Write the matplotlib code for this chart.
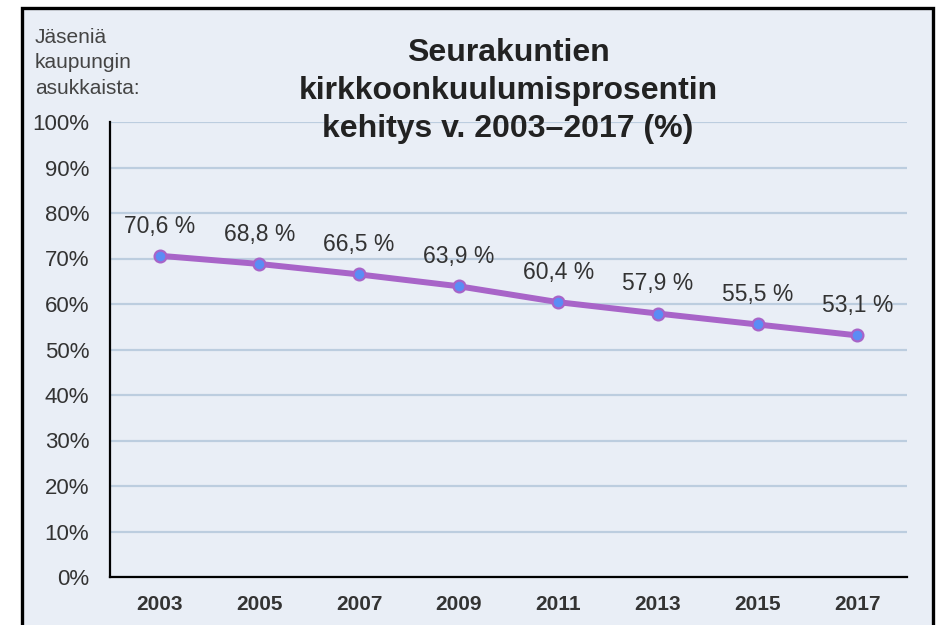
import matplotlib.pyplot as plt
from matplotlib.patches import Rectangle

plt.rcParams['font.family'] = ['Liberation Sans', 'DejaVu Sans']

# Data
years = ["2003", "2005", "2007", "2009", "2011", "2013", "2015", "2017"]
values = [70.6, 68.8, 66.5, 63.9, 60.4, 57.9, 55.5, 53.1]
labels = ["70,6 %", "68,8 %", "66,5 %", "63,9 %", "60,4 %", "57,9 %", "55,5 %", "53,1 %"]
yticks = list(range(0, 101, 10))

bg = "#e9eef6"
W, H = 942, 625

fig = plt.figure(figsize=(9.42, 6.25), dpi=100)
fig.patch.set_facecolor("white")

# frame around the chart
frame = Rectangle((22 / W, -0.05), (933 - 22) / W, 1.05 - 8 / H,
                  transform=fig.transFigure, facecolor=bg, edgecolor="black",
                  linewidth=2.4, zorder=0)
fig.patches.append(frame)

ax = fig.add_axes([110 / W, 1 - 577 / H, (907 - 110) / W, (577 - 122) / H])
ax.set_zorder(2)
ax.patch.set_alpha(0)

x = list(range(len(years)))
ax.plot(x, values, color="#a864c8", linewidth=4.3, marker="o",
        markersize=8.5, markerfacecolor="#5b8cf5", markeredgecolor="#a864c8",
        markeredgewidth=1.6, zorder=3)

for xi, v, lab in zip(x, values, labels):
    ax.annotate(lab, (xi, v), xytext=(0, 13), textcoords="offset points",
                ha="center", va="bottom", fontsize=16.5, color="#333333")

ax.set_xlim(-0.5, len(years) - 0.5)
ax.set_ylim(0, 100)
ax.set_xticks(x)
ax.set_xticklabels(years, fontsize=15, fontweight="bold", color="#333333")
ax.set_yticks(yticks)
ax.set_yticklabels([f"{t}%" for t in yticks], fontsize=16, color="#333333")
ax.tick_params(axis="both", length=0)
ax.tick_params(axis="y", pad=15)
ax.tick_params(axis="x", pad=13)

ax.grid(axis="y", color="#bccddf", linewidth=1.6)
ax.set_axisbelow(True)
for s in ["top", "right"]:
    ax.spines[s].set_visible(False)
for s in ["left", "bottom"]:
    ax.spines[s].set_color("black")
    ax.spines[s].set_linewidth(1.6)

fig.text(508 / W, 1 - 91 / H,
         "Seurakuntien\nkirkkoonkuulumisprosentin\nkehitys v. 2003–2017 (%)",
         ha="center", va="center", fontsize=23, fontweight="bold",
         color="#222222", linespacing=1.33, zorder=3)

fig.text(35 / W, 1 - 28 / H, "Jäseniä\nkaupungin\nasukkaista:",
         ha="left", va="top", fontsize=15, color="#444444", linespacing=1.42)

fig.savefig("out.png", dpi=100)
